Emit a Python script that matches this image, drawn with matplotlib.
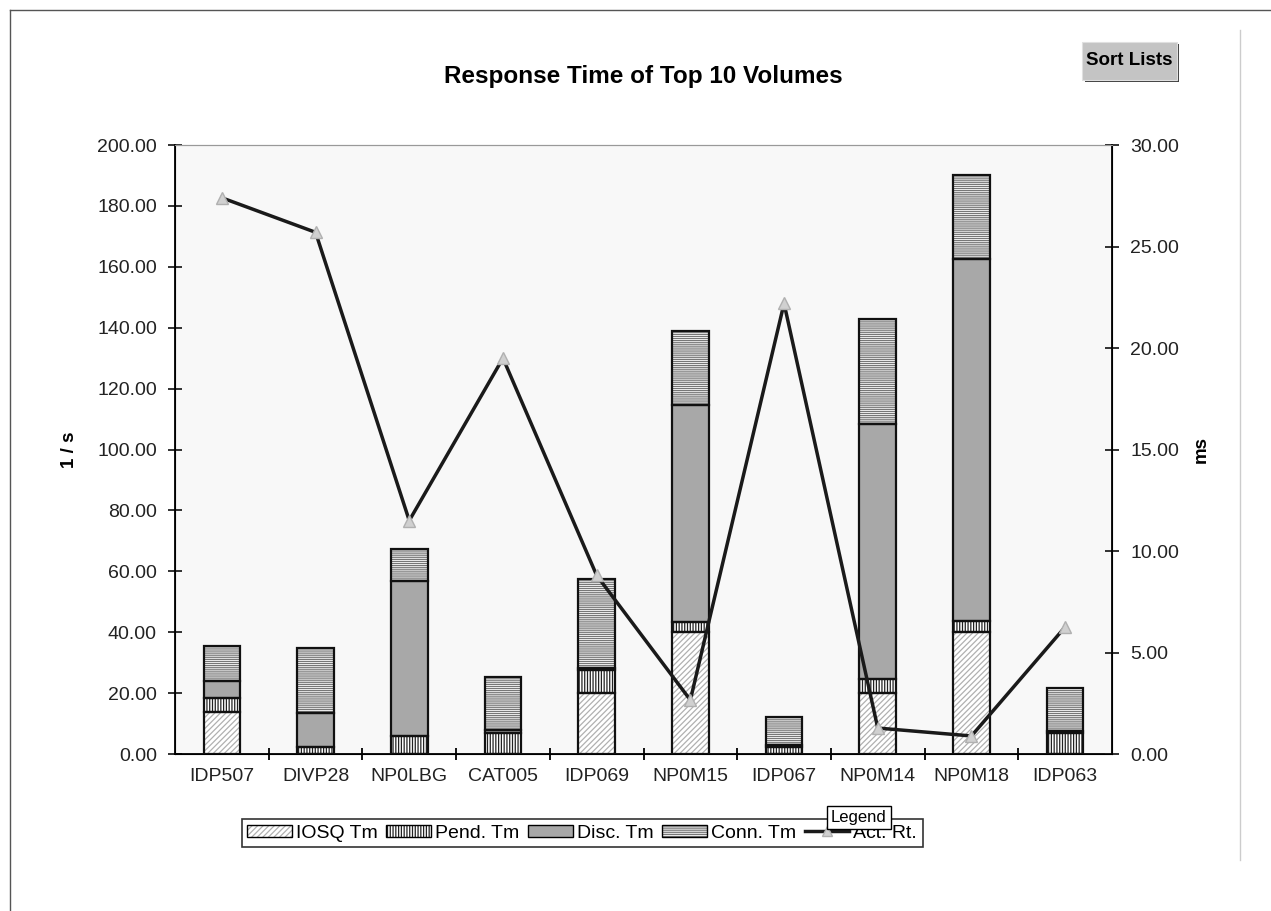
import matplotlib.pyplot as plt
from matplotlib.patches import Patch, Rectangle
from matplotlib.lines import Line2D
import numpy as np

plt.rcParams['font.family'] = ['Liberation Sans', 'DejaVu Sans']
plt.rcParams['hatch.linewidth'] = 0.9

# Данные диаграммы
volumes = ['IDP507', 'DIVP28', 'NP0LBG', 'CAT005', 'IDP069',
           'NP0M15', 'IDP067', 'NP0M14', 'NP0M18', 'IDP063']
iosq_tm = [13.8, 0.0, 0.0, 0.0, 20.2, 40.1, 0.0, 20.0, 40.1, 0.0]
pend_tm = [4.6, 2.4, 5.9, 7.0, 7.4, 3.3, 2.4, 4.6, 3.5, 7.0]
disc_tm = [5.6, 11.0, 50.9, 0.8, 0.8, 71.2, 0.5, 83.8, 119.0, 0.5]
conn_tm = [11.5, 21.5, 10.5, 17.5, 29.1, 24.4, 9.3, 34.5, 27.5, 14.1]
act_rt = [27.4, 25.7, 11.5, 19.5, 8.8, 2.66, 22.2, 1.28, 0.89, 6.26]

fig = plt.figure(figsize=(12.71, 9.11), dpi=100)
fig.patch.set_facecolor('white')
ax = fig.add_axes([0.1377, 0.1723, 0.7372, 0.6685])
ax.set_facecolor('#f8f8f8')

x = np.arange(len(volumes))
w = 0.39

# Сегменты столбцов: (значения, штриховка, цвет штриховки, заливка)
segments = [
    (iosq_tm, '//////', '#b0b0b0', 'white'),
    (pend_tm, '||||||', '#222222', 'white'),
    (disc_tm, None, '#a8a8a8', '#a8a8a8'),
    (conn_tm, '--------', '#777777', 'white'),
]
bottom = np.zeros(len(volumes))
for vals, hatch, hc, fc in segments:
    vals = np.array(vals)
    ax.bar(x, vals, w, bottom=bottom, color=fc, hatch=hatch, edgecolor=hc,
           linewidth=0, zorder=2)
    ax.bar(x, vals, w, bottom=bottom, fill=False, edgecolor='#111111',
           linewidth=1.6, zorder=3)
    bottom += vals

ax.set_xlim(-0.5, len(volumes) - 0.5)
ax.set_ylim(0, 200)
ax.set_yticks(np.arange(0, 201, 20))
ax.set_yticklabels([f'{v:.2f}' for v in np.arange(0, 201, 20)])
ax.set_xticks(x)
ax.set_xticklabels(volumes)
ax.set_xticks(np.arange(0.5, len(volumes) - 0.5, 1), minor=True)
ax.tick_params(axis='x', which='major', length=0, pad=10, labelsize=14,
               colors='#222222')
ax.tick_params(axis='x', which='minor', length=8, direction='inout', width=1.3)
ax.tick_params(axis='y', length=10, direction='inout', width=1.3, pad=8,
               labelsize=14, colors='#222222')
ax.set_ylabel('1 / s', fontsize=13.5, fontweight='bold', labelpad=14)
for s in ['left', 'bottom']:
    ax.spines[s].set_linewidth(1.3)
ax.spines['top'].set_color('#999999')

# Вторая ось: Act. Rt.
ax2 = ax.twinx()
ax2.plot(x, act_rt, color='#1a1a1a', linewidth=2.5, marker='^',
         markersize=8, markerfacecolor='#d0d0d0', markeredgecolor='#b0b0b0',
         zorder=5)
ax2.set_ylim(0, 30)
ax2.set_yticks(np.arange(0, 31, 5))
ax2.set_yticklabels([f'{v:.2f}' for v in np.arange(0, 31, 5)])
ax2.tick_params(axis='y', length=10, direction='inout', width=1.3, pad=8,
                labelsize=14, colors='#222222')
ax2.set_ylabel('ms', fontsize=13.5, fontweight='bold', labelpad=10)
ax2.spines['right'].set_linewidth(1.3)
ax2.spines['top'].set_color('#999999')

ax.set_title('Response Time of Top 10 Volumes', fontsize=17.5,
             fontweight='bold', pad=45)

# Легенда
outline = dict(facecolor='none', edgecolor='black', linewidth=1)
handles = [
    (Patch(facecolor='white', edgecolor='#b0b0b0', hatch='//////', linewidth=0),
     Patch(**outline)),
    (Patch(facecolor='white', edgecolor='#222222', hatch='||||||', linewidth=0),
     Patch(**outline)),
    (Patch(facecolor='#a8a8a8', edgecolor='none'), Patch(**outline)),
    (Patch(facecolor='white', edgecolor='#777777', hatch='--------', linewidth=0),
     Patch(**outline)),
    Line2D([], [], color='#1a1a1a', linewidth=2.5, marker='^', markersize=7,
           markerfacecolor='#d0d0d0', markeredgecolor='#b0b0b0'),
]
labels = ['IOSQ Tm', 'Pend. Tm', 'Disc. Tm', 'Conn. Tm', 'Act. Rt.']
leg = fig.legend(handles, labels, loc='center', bbox_to_anchor=(0.4580, 0.0855),
                 ncol=5, fontsize=14, frameon=True, fancybox=False,
                 handlelength=2.3, handleheight=0.6, handletextpad=0.2,
                 columnspacing=0.45, borderpad=0.3, edgecolor='black')
leg.get_frame().set_linewidth(1.2)

# Всплывающая подсказка "Legend"
fig.text(0.6755, 0.1025, 'Legend', fontsize=12, ha='center', va='center',
         bbox=dict(boxstyle='square,pad=0.25', facecolor='white',
                   edgecolor='black', linewidth=1), zorder=10)

# Кнопка "Sort Lists"
fig.patches.append(Rectangle((0.8535, 0.9103), 0.0745, 0.0417,
                             transform=fig.transFigure, facecolor='#404040',
                             edgecolor='none'))
fig.patches.append(Rectangle((0.8512, 0.9125), 0.0745, 0.0417,
                             transform=fig.transFigure, facecolor='#c4c4c4',
                             edgecolor='#e0e0e0', linewidth=0.8))
fig.text(0.8885, 0.9335, 'Sort Lists', fontsize=13.5, fontweight='bold',
         ha='center', va='center')

# Рамка листа
fig.add_artist(Line2D([0.0075, 0.0075], [0.0, 0.9885], color='#555555',
                      linewidth=1, transform=fig.transFigure))
fig.add_artist(Line2D([0.0075, 1.0], [0.9885, 0.9885], color='#555555',
                      linewidth=1, transform=fig.transFigure))
fig.add_artist(Line2D([0.9757, 0.9757], [0.056, 0.967], color='#cccccc',
                      linewidth=1, transform=fig.transFigure))

fig.savefig('out.png', dpi=100)
